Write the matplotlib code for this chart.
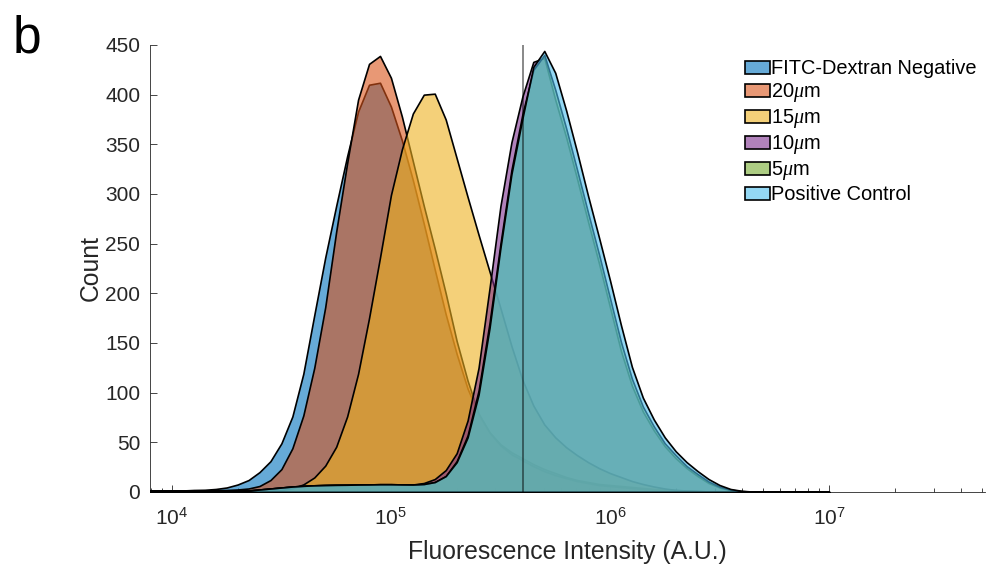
import numpy as np
import matplotlib
matplotlib.use("Agg")
import matplotlib.pyplot as plt
from matplotlib.ticker import LogLocator, NullFormatter

plt.rcParams['font.family'] = ['Liberation Sans', 'DejaVu Sans']
plt.rcParams['mathtext.fontset'] = 'custom'
plt.rcParams['mathtext.rm'] = 'Liberation Sans'
plt.rcParams['mathtext.it'] = 'Liberation Serif:italic'

# histogram bin centres, log10 of fluorescence intensity
log_bins = np.round(np.arange(3.90, 7.001, 0.05), 2)

neg = [1.5, 1.5, 1.5, 1.5, 2, 2.2, 3, 4.5, 7.5, 12,
       20, 31, 49, 76, 119, 178, 236, 288, 338, 383,
       410, 412, 388, 354, 314, 270, 224, 179, 139, 104,
       78, 60, 48, 40, 34, 28, 23, 19, 15, 12,
       10, 8, 7, 6, 5, 4, 3, 2.5, 2, 1.5,
       1, 0.5, 0.3, 0, 0, 0, 0, 0, 0, 0,
       0, 0, 0]
um20 = [1.5, 1.5, 1.5, 1.5, 1.5, 1.5, 1.8, 2, 2.5, 3.5,
        6, 12, 23, 44, 77, 125, 186, 262, 331, 395,
        431, 439, 417, 378, 333, 288, 245, 200, 152, 112,
        79, 60, 47, 38, 32, 26, 21, 17, 14, 11,
        9, 7, 6, 5, 4, 3, 2.5, 2, 1.5, 1.2,
        1, 0.5, 0.3, 0, 0, 0, 0, 0, 0, 0,
        0, 0, 0]
um15 = [1.5, 1.5, 1.5, 1.5, 1.5, 1.5, 1.5, 1.5, 1.5, 1.5,
        1.5, 1.5, 2, 3.7, 7.6, 14.6, 26.5, 45.5, 76, 119,
        175, 236, 299, 345, 381, 400, 401, 375, 336, 297,
        259, 222, 185, 147, 113, 87, 68, 55, 45, 37,
        30, 24, 19, 15, 11, 8, 5.5, 3.5, 2, 1.2,
        0.6, 0.3, 0.1, 0, 0, 0, 0, 0, 0, 0,
        0, 0, 0]
um10 = [1.5, 1.5, 1.5, 1.5, 1.5, 1.5, 1.5, 1.5, 1.5, 1.5,
        2.5, 3.5, 4.5, 5.5, 6.2, 6.7, 7, 7.2, 7.3, 7.5,
        7.6, 7.8, 7.8, 7.6, 7.5, 9, 13, 22, 39, 72,
        125, 205, 288, 352, 398, 433, 437, 395, 357, 315,
        272, 230, 186, 142, 107, 81, 62, 46, 34, 24,
        16, 9, 4.5, 1.8, 0.6, 0, 0, 0, 0, 0,
        0, 0, 0]
um5 = [1.5, 1.5, 1.5, 1.5, 1.5, 1.5, 1.5, 1.5, 1.5, 1.5,
       2.5, 3.5, 4.5, 5.5, 6.2, 6.7, 7, 7.2, 7.3, 7.5,
       7.6, 7.8, 7.8, 7.6, 7.5, 8, 10, 16, 31, 57,
       102, 170, 250, 324, 380, 425, 440, 405, 366, 324,
       281, 239, 195, 151, 114, 86, 66, 49, 37, 26,
       18, 10.5, 5.4, 2.3, 0.9, 0.3, 0, 0, 0, 0,
       0, 0, 0]
pos = [1.5, 1.5, 1.5, 1.5, 1.5, 1.5, 1.5, 1.5, 1.5, 1.5,
       2.5, 3.5, 4.5, 5.5, 6.2, 6.7, 7, 7.2, 7.3, 7.5,
       7.6, 7.8, 7.8, 7.6, 7.5, 8, 10, 16, 30, 55,
       98, 165, 246, 320, 376, 428, 444, 422, 384, 342,
       298, 256, 213, 168, 126, 95, 73, 55, 41, 30,
       21, 13, 7, 3, 1.2, 0.4, 0, 0, 0, 0,
       0, 0, 0]

labels = ['FITC-Dextran Negative', r'20$\mu$m', r'15$\mu$m',
          r'10$\mu$m', r'5$\mu$m', 'Positive Control']
series = [neg, um20, um15, um10, um5, pos]
colors = ['#0072BD', '#D95319', '#EDB120', '#7E2F8E', '#77AC30', '#4DBEEE']
gate = 4e5

intensity = 10.0 ** log_bins

fig = plt.figure(figsize=(9.86, 5.71), dpi=100)
ax = fig.add_axes([0.1521, 0.1384, 0.8469, 0.7828])

for i, (vals, lab, col) in enumerate(zip(series, labels, colors)):
    face = matplotlib.colors.to_rgba(col, 0.6)
    ax.fill_between(intensity, 0, vals, facecolor=face, edgecolor='k',
                    linewidth=1.2, joinstyle='round', label=lab, zorder=2 + i)

ax.axvline(gate, color='k', alpha=0.5, linewidth=1.3, zorder=10)

ax.set_xscale('log')
ax.set_xlim(10 ** 3.9, 10 ** 7.712)
ax.set_ylim(0, 450)
ax.set_yticks(np.arange(0, 451, 50))
ax.xaxis.set_major_locator(LogLocator(base=10, numticks=10))
ax.xaxis.set_minor_locator(LogLocator(base=10, subs=np.arange(2, 10), numticks=20))
ax.xaxis.set_minor_formatter(NullFormatter())

for s in ['top', 'right']:
    ax.spines[s].set_visible(False)
for s in ['left', 'bottom']:
    ax.spines[s].set_color('#262626')
    ax.spines[s].set_linewidth(0.6)
ax.set_axisbelow(True)
ax.tick_params(which='both', direction='in', color='#262626', width=0.6,
               labelcolor='#262626', labelsize=15)
ax.tick_params(which='major', length=5)
ax.tick_params(which='minor', length=3)
ax.tick_params(axis='x', pad=11)
ax.tick_params(axis='y', pad=7)

ax.set_xlabel('Fluorescence Intensity (A.U.)', fontsize=17.8, color='#262626',
              labelpad=8)
ax.set_ylabel('Count', fontsize=17.8, color='#262626', labelpad=2)

ax.legend(loc='upper left', bbox_to_anchor=(0.7026, 0.986), frameon=False,
          fontsize=14.4, handlelength=1.25, handleheight=0.6,
          handletextpad=0.08, labelspacing=0.15, borderaxespad=0)

fig.text(0.013, 0.975, 'b', fontsize=37, va='top', ha='left')

fig.savefig('out.png', dpi=100)
